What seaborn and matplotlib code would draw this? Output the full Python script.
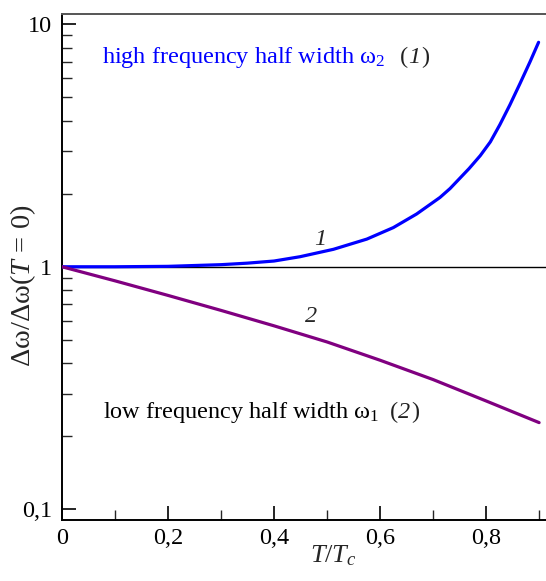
import numpy as np
import pandas as pd
import matplotlib
matplotlib.use("Agg")
import matplotlib.pyplot as plt
import matplotlib.transforms as mtransforms
from matplotlib.ticker import FixedLocator, FixedFormatter
import seaborn as sns

# Reduced temperature T/Tc and high-frequency half width omega_2 (normalised to T = 0)
t_high = [0.0, 0.1, 0.2, 0.3, 0.35, 0.4, 0.449, 0.512, 0.575, 0.625, 0.669, 0.713, 0.732,
          0.768, 0.789, 0.808, 0.826, 0.845, 0.864, 0.883, 0.899]
w_high = [1.0, 1.0, 1.004, 1.02, 1.035, 1.056, 1.10, 1.18, 1.30, 1.45, 1.65, 1.93, 2.10,
          2.54, 2.87, 3.27, 3.85, 4.65, 5.69, 7.0, 8.41]

# Reduced temperature T/Tc and low-frequency half width omega_1 (normalised to T = 0)
t_low = [0.0, 0.1, 0.2, 0.3, 0.4, 0.5, 0.6, 0.7, 0.8, 0.9]
w_low = [1.0, 0.875, 0.762, 0.661, 0.571, 0.49, 0.412, 0.343, 0.28, 0.228]

x_major = [0.0, 0.2, 0.4, 0.6, 0.8]
x_major_labels = ["0", "0,2", "0,4", "0,6", "0,8"]
x_minor = [0.1, 0.3, 0.5, 0.7, 0.9]
y_major = [0.1, 1.0, 10.0]
y_major_labels = ["0,1", "1", "10"]

sns.set_style("ticks")
plt.rcParams["font.family"] = ["Liberation Serif", "DejaVu Serif"]
plt.rcParams["mathtext.fontset"] = "custom"
plt.rcParams["mathtext.rm"] = "Liberation Serif"
plt.rcParams["mathtext.it"] = "Liberation Serif:italic"

W, H = 546, 581
FS = 17.5
fig = plt.figure(figsize=(W / 100, H / 100), dpi=100)
ax = fig.add_axes([62 / W, 61 / H, 484 / W, 506 / H])

df_high = pd.DataFrame({"t": t_high, "w": w_high})
df_low = pd.DataFrame({"t": t_low, "w": w_low})

ax.axhline(1.0, color="black", lw=1.0, zorder=1)
sns.lineplot(data=df_high, x="t", y="w", ax=ax, color="#0000ff", lw=2.3, zorder=3)
sns.lineplot(data=df_low, x="t", y="w", ax=ax, color="#800080", lw=2.3, zorder=3)

ax.set_yscale("log")
ax.set_xlim(0, 0.913)
ax.set_ylim(0.0905, 11.0)

ax.xaxis.set_major_locator(FixedLocator(x_major))
ax.xaxis.set_major_formatter(FixedFormatter(x_major_labels))
ax.xaxis.set_minor_locator(FixedLocator(x_minor))
ax.yaxis.set_major_locator(FixedLocator(y_major))
ax.yaxis.set_major_formatter(FixedFormatter(y_major_labels))
y_minor = [m * d for d in (0.1, 1.0) for m in range(2, 10)]
ax.yaxis.set_minor_locator(FixedLocator(y_minor))
ax.yaxis.set_minor_formatter(FixedFormatter([""] * len(y_minor)))

ax.tick_params(axis="both", which="major", direction="in", length=10, width=1.2,
               labelsize=FS, colors="black")
ax.tick_params(axis="both", which="minor", direction="in", length=7, width=1.0)
ax.tick_params(axis="x", which="major", pad=6)
ax.tick_params(axis="y", which="major", pad=7)
ax.tick_params(top=False, right=False, which="both")

ax.spines["right"].set_visible(False)
ax.spines["left"].set_color("black")
ax.spines["bottom"].set_color("black")
ax.spines["top"].set_color("#555555")
for s in ("left", "bottom", "top"):
    ax.spines[s].set_linewidth(1.4)

ax.set_xlabel("")
ax.set_ylabel("")

# Axis titles
fig.text(23 / W, 1 - 286 / H, r"$\mathrm{\Delta\omega/\Delta\omega(}T\mathrm{\,=\,0)}$",
         rotation=90, ha="center", va="center", fontsize=20.5)
fig.text(333 / W, 1 - 556 / H, r"$T\mathrm{/}T_c$", ha="center", va="center", fontsize=19)


def text_row(x, y, pieces):
    """Lay out text pieces left to right on a common baseline at (x, y)."""
    renderer = fig.canvas.get_renderer()
    dx = 0.0
    for s, gap, kw in pieces:
        dx += gap
        tr = mtransforms.offset_copy(ax.transData, fig=fig, x=dx, y=0, units="dots")
        t = ax.text(x, y, s, transform=tr, ha="left", va="baseline", fontsize=FS, **kw)
        dx += t.get_window_extent(renderer).width


text_row(0.0755, 6.9, [
    (r"high frequency half width $\mathrm{\omega_2}$", 0, {"color": "#0000ff"}),
    ("(", 15, {"color": "#222222"}),
    ("1", 0, {"color": "#222222", "style": "italic"}),
    (")", 1, {"color": "#222222"}),
])
text_row(0.077, 0.238, [
    (r"low frequency half width $\mathrm{\omega_1}$", 0, {"color": "black"}),
    ("(", 11, {"color": "#222222"}),
    ("2", 0, {"color": "#222222", "style": "italic"}),
    (")", 1, {"color": "#222222"}),
])

# Curve numbers
ax.text(0.487, 1.29, "1", style="italic", fontsize=FS, ha="center", va="center")
ax.text(0.47, 0.622, "2", style="italic", fontsize=FS, ha="center", va="center")

fig.savefig("out.png", dpi=100)
